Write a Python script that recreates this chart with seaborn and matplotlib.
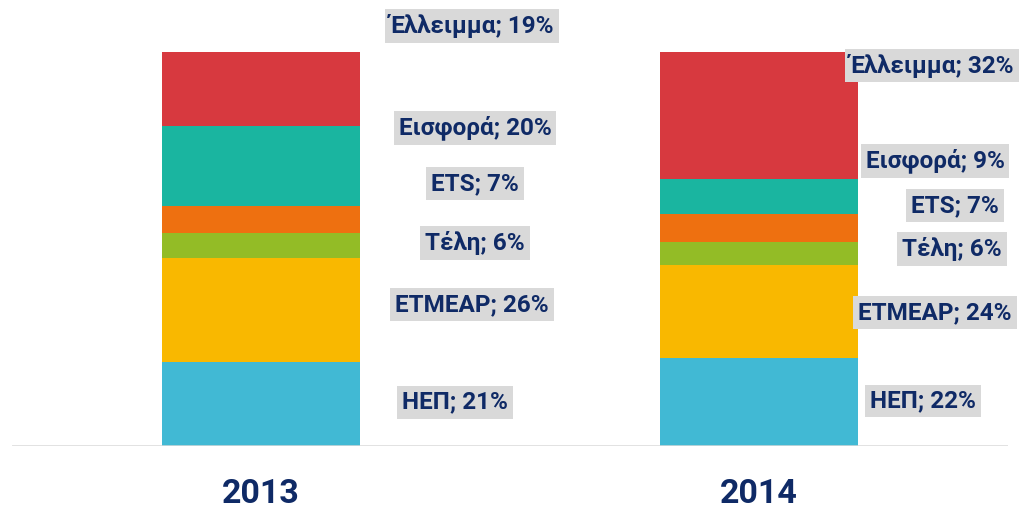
import matplotlib
matplotlib.use("Agg")
import matplotlib.pyplot as plt
import seaborn as sns
import pandas as pd
import numpy as np

years = ["2013", "2014"]
categories = ["ΗΕΠ", "ΕΤΜΕΑΡ", "Τέλη", "ETS", "Εισφορά", "Έλλειμμα"]
values_2013 = [21.2, 26.4, 6.4, 6.9, 20.3, 18.8]
values_2014 = [22.3, 23.6, 5.8, 7.1, 8.9, 32.3]
colors = ["#41B9D4", "#F9B800", "#93BC26", "#EE7010", "#1AB5A0", "#D7393F"]

# label offsets (pixels) relative to bar centre / segment middle
offsets_2013 = [(194, 2), (211, 6), (214, 3), (214, 36), (214, 38), (211, 63)]
offsets_2014 = [(164, 1), (176, -1), (193, 5), (196, 23), (176, 36), (173, 50)]

navy = "#0F2A66"
sns.set_theme(style="white")
plt.rcParams["font.family"] = ["Roboto", "DejaVu Sans"]

fig = plt.figure(figsize=(10.21, 5.12), dpi=100)
ax = fig.add_axes([12 / 1021, 66 / 512, 996 / 1021, 446 / 512])

vals = {"2013": values_2013, "2014": values_2014}
rows = []
for y in years:
    cum = np.cumsum(vals[y])
    for i, c in enumerate(categories):
        rows.append({"year": y, "cat": c, "value": vals[y][i], "cum": cum[i]})
df = pd.DataFrame(rows)

# draw cumulative bars from top layer down
for i in range(len(categories) - 1, -1, -1):
    sub = df[df["cat"] == categories[i]]
    sns.barplot(data=sub, x="year", y="cum", order=years, color=colors[i],
                width=0.398, saturation=1, ax=ax, edgecolor="none", linewidth=0)

ax.set_xlim(-0.5, 1.5)
ax.set_ylim(0, 113.2)
ax.axhline(0, color="#D9D9D9", lw=1.8, zorder=5)
for s in ax.spines.values():
    s.set_visible(False)
ax.set_yticks([])
ax.set_xlabel("")
ax.set_ylabel("")
ax.tick_params(axis="x", length=0, pad=23)
for lab in ax.get_xticklabels():
    lab.set_fontsize(24.5)
    lab.set_fontweight("bold")
    lab.set_color(navy)

offs = {"2013": offsets_2013, "2014": offsets_2014}
for xi, y in enumerate(years):
    cum = np.cumsum(vals[y])
    for i, c in enumerate(categories):
        mid = cum[i] - vals[y][i] / 2
        dx, dy = offs[y][i]
        ax.annotate(f"{c}; {round(vals[y][i])}%", xy=(xi, mid),
                    xytext=(dx, dy), textcoords="offset pixels",
                    ha="center", va="center", fontsize=17.5, fontweight="bold",
                    color=navy, annotation_clip=False,
                    bbox=dict(boxstyle="square,pad=0.2", fc="#D9D9D9", ec="none"))

fig.savefig("out.png", dpi=100)
